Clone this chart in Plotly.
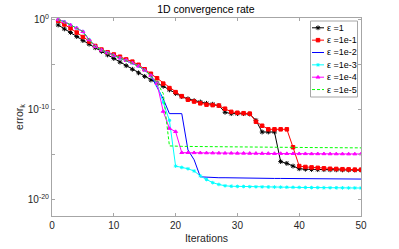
import plotly.graph_objects as go

iterations = list(range(1, 51))

# log10(error_k)
log_eps_1 = [-0.56, -1.0, -1.4, -1.85, -2.3, -2.7, -3.1, -3.5, -3.9, -4.3,
             -4.7, -5.1, -5.5, -5.9, -6.3, -6.7, -7.05, -7.4, -7.8, -8.2,
             -8.55, -8.8, -9.0, -9.15, -9.3, -9.4, -9.55, -10.3, -10.45, -10.45,
             -10.45, -10.5, -11.2, -12.5, -12.5, -12.5, -15.8, -16.0, -16.3, -16.6,
             -16.65, -16.68, -16.7, -16.7, -16.72, -16.72, -16.73, -16.74, -16.75, -16.75]
log_eps_1e1 = [-0.1, -0.5, -0.93, -1.4, -1.9, -2.4, -2.9, -3.3, -3.6, -3.85,
               -4.1, -4.4, -4.65, -5.0, -5.5, -6.0, -6.5, -7.1, -7.6, -8.05,
               -8.5, -8.9, -9.1, -9.3, -9.45, -9.5, -9.55, -9.9, -10.25, -10.35,
               -10.4, -10.45, -11.35, -11.8, -12.2, -12.2, -12.2, -12.2, -14.2, -16.3,
               -16.4, -16.45, -16.5, -16.55, -16.6, -16.62, -16.65, -16.67, -16.7, -16.7]
log_eps_1e2 = [0.05, -0.2, -0.55, -0.9, -1.3, -2.2, -2.95, -3.35, -3.65, -3.95,
               -4.25, -4.5, -4.8, -5.15, -5.6, -6.2, -7.5, -8.8, -10.45, -10.45,
               -10.45, -14.5, -15.6, -17.5, -17.55, -17.58, -17.6, -17.6, -17.62, -17.62,
               -17.63, -17.64, -17.65, -17.66, -17.67, -17.68, -17.68, -17.69, -17.7, -17.7,
               -17.71, -17.72, -17.72, -17.73, -17.73, -17.74, -17.74, -17.75, -17.75, -17.75]
log_eps_1e3 = [0.05, -0.2, -0.55, -0.9, -1.3, -2.2, -2.95, -3.35, -3.65, -3.95,
               -4.25, -4.5, -4.8, -5.15, -5.6, -6.2, -7.2, -9.2, -11.2, -16.3,
               -16.45, -16.6, -16.85, -17.4, -17.8, -18.15, -18.35, -18.5, -18.55, -18.57,
               -18.58, -18.6, -18.61, -18.62, -18.63, -18.64, -18.65, -18.66, -18.67, -18.68,
               -18.69, -18.7, -18.7, -18.71, -18.72, -18.72, -18.73, -18.74, -18.74, -18.75]
log_eps_1e4 = [0.03, -0.2, -0.55, -0.9, -1.3, -2.2, -2.95, -3.35, -3.65, -3.95,
               -4.25, -4.5, -4.8, -5.15, -5.6, -6.2, -7.1, -10.2, -12.1, -12.45,
               -14.8, -14.8, -14.81, -14.82, -14.83, -14.84, -14.85, -14.86, -14.86, -14.87,
               -14.87, -14.88, -14.88, -14.89, -14.89, -14.9, -14.9, -14.91, -14.91, -14.92,
               -14.92, -14.93, -14.93, -14.93, -14.94, -14.94, -14.94, -14.95, -14.95, -14.95]
log_eps_1e5 = [0.03, -0.2, -0.55, -0.9, -1.3, -2.2, -2.95, -3.35, -3.65, -3.95,
               -4.25, -4.5, -4.8, -5.15, -5.6, -6.2, -7.0, -8.2, -14.05, -14.1,
               -14.1, -14.11, -14.12, -14.13, -14.13, -14.14, -14.15, -14.15, -14.16, -14.17,
               -14.17, -14.18, -14.18, -14.19, -14.2, -14.2, -14.21, -14.21, -14.22, -14.22,
               -14.23, -14.23, -14.24, -14.24, -14.25, -14.25, -14.26, -14.26, -14.27, -14.27]

series_names = ["ε =1", "ε =1e-1", "ε =1e-2", "ε =1e-3", "ε =1e-4", "ε =1e-5"]
series_logs = [log_eps_1, log_eps_1e1, log_eps_1e2, log_eps_1e3, log_eps_1e4, log_eps_1e5]

y_tick_vals = [1e0, 1e-10, 1e-20]
y_tick_text = ["10<sup>0</sup>", "10<sup>-10</sup>", "10<sup>-20</sup>"]
y_minor_tick_vals = [1e-5, 1e-15]
x_tick_vals = [0, 10, 20, 30, 40, 50]

styles = [
    dict(color="#000000", mode="lines+markers", symbol="asterisk-open", size=4, dash="solid"),
    dict(color="#ff0000", mode="lines+markers", symbol="square", size=3.5, dash="solid"),
    dict(color="#0000ff", mode="lines", symbol="circle", size=3, dash="solid"),
    dict(color="#00ffff", mode="lines+markers", symbol="asterisk-open", size=3, dash="solid"),
    dict(color="#ff00ff", mode="lines+markers", symbol="triangle-up", size=3.5, dash="solid"),
    dict(color="#00ff00", mode="lines", symbol="circle", size=3, dash="3px,2px"),
]

W, H = 399, 249
ML, MR, MT, MB = 52, 38, 18, 33
PW, PH = W - ML - MR, H - MT - MB


def px_to_paper(px, py):
    return (px - ML) / PW, (H - MB - py) / PH


fig = go.Figure()
for name, logs, st in zip(series_names, series_logs, styles):
    yvals = [10.0 ** v for v in logs]
    fig.add_trace(go.Scatter(
        x=iterations, y=yvals, name=name, mode=st["mode"], showlegend=False,
        line=dict(color=st["color"], width=1, dash=st["dash"]),
        marker=dict(symbol=st["symbol"], size=st["size"], color=st["color"],
                    line=dict(color=st["color"], width=1)),
    ))

# ---- compact MATLAB-style legend (box, samples, labels) ----
leg_left, leg_right, leg_top, leg_bottom = 310.5, 357.5, 21, 97
row0, row_step = 27.8, 12.35
shapes = []
annotations = []
x0, y0 = px_to_paper(leg_left, leg_top)
x1, y1 = px_to_paper(leg_right, leg_bottom)
shapes.append(dict(type="rect", xref="paper", yref="paper", x0=x0, x1=x1, y0=y1, y1=y0,
                   line=dict(color="#a6a6a6", width=1), fillcolor="white", layer="below"))
for k, (name, st) in enumerate(zip(series_names, styles)):
    py = row0 + k * row_step
    lx0, ly = px_to_paper(312, py)
    lx1, _ = px_to_paper(324, py)
    shapes.append(dict(type="line", xref="paper", yref="paper", x0=lx0, x1=lx1, y0=ly, y1=ly,
                       line=dict(color=st["color"], width=1, dash=st["dash"]),
                       layer="above"))
    tx, _ = px_to_paper(324.5, py)
    annotations.append(dict(x=tx, y=ly, xref="paper", yref="paper", text=name, showarrow=False,
                            xanchor="left", yanchor="middle",
                            font=dict(family="Liberation Sans, Arial", size=9, color="#000000")))
    if "markers" in st["mode"]:
        mx, _ = px_to_paper(318, py)
        fig.add_trace(go.Scatter(
            x=[mx], y=[ly], xaxis="x2", yaxis="y2", mode="markers", showlegend=False,
            hoverinfo="skip",
            marker=dict(symbol=st["symbol"], size=st["size"], color=st["color"],
                        line=dict(color=st["color"], width=1)),
        ))

axis_common = dict(
    showline=True, linecolor="#a6a6a6", linewidth=1, mirror="ticks", automargin=False,
    ticks="inside", ticklen=3, tickcolor="#a6a6a6", showgrid=False, zeroline=False,
    tickfont=dict(family="Liberation Sans, Arial", size=10, color="#262626"),
)

fig.update_layout(
    template="none",
    width=W, height=H,
    margin=dict(l=ML, r=MR, t=MT, b=MB),
    paper_bgcolor="white", plot_bgcolor="white",
    font=dict(family="Liberation Sans, Arial", color="#262626"),
    title=dict(text="1D convergence rate", x=0.516, xanchor="center", y=0.962, yanchor="middle",
               font=dict(size=10.5, color="#000000"), automargin=False),
    xaxis=dict(range=[0, 50], tickvals=x_tick_vals,
               title=dict(text="Iterations", font=dict(size=10.5, color="#262626"), standoff=4),
               **axis_common),
    yaxis=dict(type="log", range=[-21.87, 0.22], tickvals=y_tick_vals, ticktext=y_tick_text,
               minor=dict(tickvals=y_minor_tick_vals, ticks="inside", ticklen=3,
                          tickcolor="#a6a6a6", showgrid=False),
               title=dict(text="error<sub>k</sub>", font=dict(size=10.5, color="#262626"), standoff=2),
               **axis_common),
    xaxis2=dict(range=[0, 1], overlaying="x", visible=False, fixedrange=True),
    yaxis2=dict(range=[0, 1], overlaying="y", visible=False, fixedrange=True),
    shapes=shapes,
    annotations=annotations,
    showlegend=False,
)

fig.write_html("out.html", config={"displayModeBar": False},
               post_script="document.body.style.margin='0';document.body.style.overflow='hidden';")
